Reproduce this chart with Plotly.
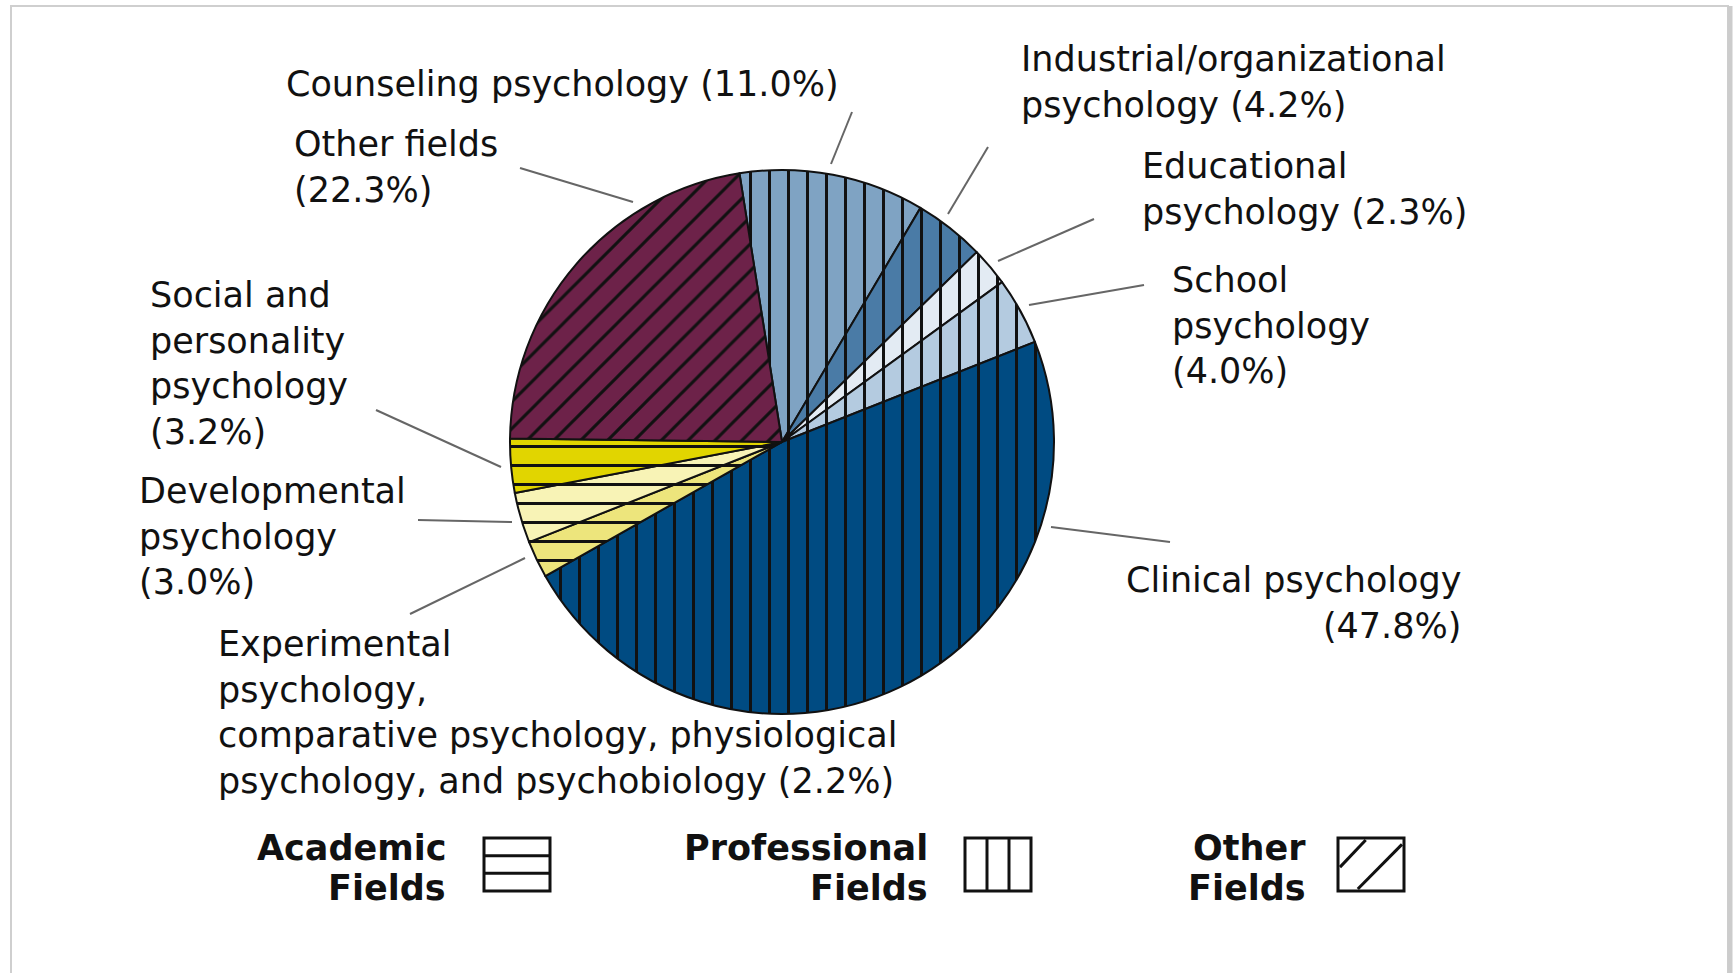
import plotly.graph_objects as go

W, H = 1736, 973

fields = [
    "Counseling psychology",
    "Industrial/organizational psychology",
    "Educational psychology",
    "School psychology",
    "Clinical psychology",
    "Experimental, comparative, physiological psychology and psychobiology",
    "Developmental psychology",
    "Social and personality psychology",
    "Other fields",
]
shares = [11.0, 4.2, 2.3, 4.0, 47.8, 2.2, 3.0, 3.2, 22.3]
groups = ["Professional", "Professional", "Professional", "Professional", "Professional",
          "Academic", "Academic", "Academic", "Other"]
colors = ["#7FA3C3", "#4A7BA6", "#E3EBF3", "#B4CBE0", "#004B82",
          "#EDE57C", "#F8F3B6", "#E1D500", "#6D2249"]
group_pattern = {"Professional": "|", "Academic": "-", "Other": "/"}

label_texts = [
    "Counseling psychology (11.0%)",
    "Industrial/organizational<br>psychology (4.2%)",
    "Educational<br>psychology (2.3%)",
    "School<br>psychology<br>(4.0%)",
    "Clinical psychology<br>(47.8%)",
    "Experimental<br>psychology,<br>comparative psychology, physiological<br>psychology, and psychobiology (2.2%)",
    "Developmental<br>psychology<br>(3.0%)",
    "Social and<br>personality<br>psychology<br>(3.2%)",
    "Other fields<br>(22.3%)",
]
legend_names = [("Academic", "-"), ("Professional", "|"), ("Other", "/")]


def px(x):
    return x / W


def py(y):
    return 1 - y / H


fig = go.Figure()

# pie (circle of radius 272 px centred at 782, 442)
cx, cy, R = 782, 442, 272
fig.add_trace(go.Pie(
    labels=fields,
    values=shares,
    sort=False,
    direction="clockwise",
    rotation=-9,
    textinfo="none",
    hoverinfo="label+percent",
    showlegend=False,
    domain=dict(x=[px(cx - R), px(cx + R)], y=[py(cy + R), py(cy - R)]),
    marker=dict(
        colors=colors,
        line=dict(color="#111111", width=2),
        pattern=dict(shape=[group_pattern[g] for g in groups],
                     fgcolor="#111111", bgcolor=colors, size=19, solidity=0.16,
                     fillmode="replace"),
    ),
))

LBL_FONT = dict(family="DejaVu Sans", size=35, color="#111111")

# label block positions (centre x, centre y, alignment)
label_pos = [
    (562, 84, "left"),
    (1233, 82, "left"),
    (1304, 189, "left"),
    (1271, 325, "left"),
    (1293, 603, "right"),
    (557, 712, "left"),
    (272, 536, "left"),
    (249, 363, "left"),
    (396, 167, "left"),
]
annotations = []
for txt, (x, y, al) in zip(label_texts, label_pos):
    annotations.append(dict(
        x=px(x), y=py(y), xref="paper", yref="paper", text=txt,
        showarrow=False, xanchor="center", yanchor="middle", align=al,
        font=LBL_FONT,
    ))

shapes = []
# leader lines (outer end, inner end) in pixels
leaders = [
    ((852, 112), (831, 164)),
    ((988, 147), (948, 214)),
    ((1094, 219), (998, 261)),
    ((1144, 285), (1029, 305)),
    ((1170, 542), (1051, 527)),
    ((410, 614), (525, 558)),
    ((418, 520), (512, 522)),
    ((376, 410), (501, 467)),
    ((520, 168), (633, 202)),
]
for (x0, y0), (x1, y1) in leaders:
    shapes.append(dict(type="line", xref="paper", yref="paper",
                       x0=px(x0), y0=py(y0), x1=px(x1), y1=py(y1),
                       line=dict(color="#666666", width=2)))

# legend
LEG_FONT = dict(family="DejaVu Sans", size=35, color="#111111")
leg_text_right = [448, 930, 1308]
leg_box_x = [484, 965, 1338]
bw, bh = 66, 53
by0 = 838
for (name, pat), tx, bx in zip(legend_names, leg_text_right, leg_box_x):
    annotations.append(dict(x=px(tx), y=py(848), xref="paper", yref="paper",
                            text="<b>%s</b>" % name, showarrow=False,
                            xanchor="right", yanchor="middle", font=LEG_FONT))
    annotations.append(dict(x=px(tx), y=py(888), xref="paper", yref="paper",
                            text="<b>Fields</b>", showarrow=False,
                            xanchor="right", yanchor="middle", font=LEG_FONT))
    x0, x1, y0, y1 = bx, bx + bw, by0, by0 + bh
    shapes.append(dict(type="rect", xref="paper", yref="paper",
                       x0=px(x0), x1=px(x1), y0=py(y1), y1=py(y0),
                       line=dict(color="#111111", width=3), fillcolor="white"))
    segs = []
    if pat == "-":
        for k in (1, 2):
            yy = y0 + bh * k / 3
            segs.append((x0, yy, x1, yy))
    elif pat == "|":
        for k in (1, 2):
            xx = x0 + bw * k / 3
            segs.append((xx, y0, xx, y1))
    else:
        segs.append((x0 + 2, y0 + bh * 0.55, x0 + bw * 0.42, y0 + 2))
        segs.append((x0 + bw * 0.3, y1 - 2, x1 - 2, y0 + bh * 0.12))
    for (a, b, c, d) in segs:
        shapes.append(dict(type="line", xref="paper", yref="paper",
                           x0=px(a), y0=py(b), x1=px(c), y1=py(d),
                           line=dict(color="#111111", width=3)))

# page frame
shapes.append(dict(type="rect", xref="paper", yref="paper",
                   x0=px(11), x1=px(1728), y0=py(985), y1=py(6),
                   line=dict(color="#CFCFCF", width=2)))
shapes.append(dict(type="line", xref="paper", yref="paper",
                   x0=px(1730), x1=px(1730), y0=py(985), y1=py(6),
                   line=dict(color="#CCCCCC", width=5)))

fig.update_layout(
    width=W, height=H,
    margin=dict(l=0, r=0, t=0, b=0),
    paper_bgcolor="white",
    plot_bgcolor="white",
    annotations=annotations,
    shapes=shapes,
    showlegend=False,
)

fig.write_html("out.html", config={"displayModeBar": False},
               post_script="document.body.style.margin='0';document.body.style.overflow='hidden';")
